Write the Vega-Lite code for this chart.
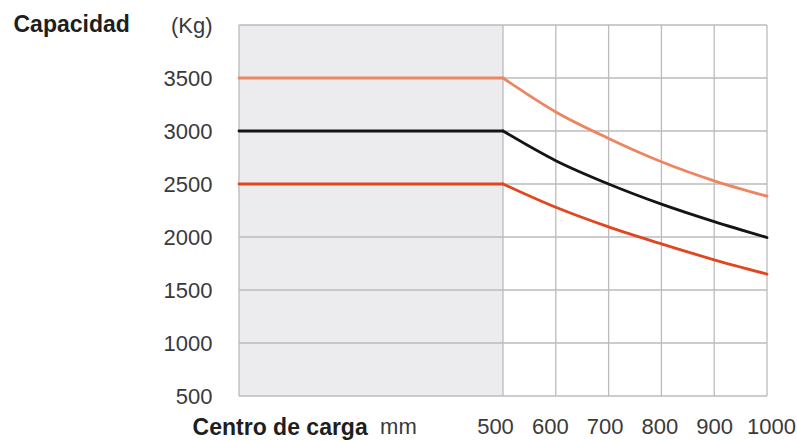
{
  "$schema": "https://vega.github.io/schema/vega-lite/v6.json",
  "width": 528,
  "height": 371,
  "autosize": {"type": "none"},
  "padding": {"left": 239, "top": 25, "right": 30, "bottom": 45},
  "background": "white",
  "config": {"view": {"stroke": null}, "font": "Liberation Sans"},
  "datasets": {
    "shade": [{"from": 0, "to": 500}],
    "vgrid": [{"c": 0}, {"c": 500}, {"c": 600}, {"c": 700}, {"c": 800}, {"c": 900}, {"c": 1000}],
    "hgrid": [{"kg": 500}, {"kg": 1000}, {"kg": 1500}, {"kg": 2000}, {"kg": 2500}, {"kg": 3000}, {"kg": 3500}, {"kg": 4000}],
    "curves": [
      {"serie": "3500", "c": 0, "kg": 3500},
      {"serie": "3500", "c": 500, "kg": 3500},
      {"serie": "3500", "c": 600, "kg": 3180},
      {"serie": "3500", "c": 700, "kg": 2930},
      {"serie": "3500", "c": 800, "kg": 2710},
      {"serie": "3500", "c": 900, "kg": 2530},
      {"serie": "3500", "c": 1000, "kg": 2385},
      {"serie": "3000", "c": 0, "kg": 3000},
      {"serie": "3000", "c": 500, "kg": 3000},
      {"serie": "3000", "c": 600, "kg": 2720},
      {"serie": "3000", "c": 700, "kg": 2500},
      {"serie": "3000", "c": 800, "kg": 2310},
      {"serie": "3000", "c": 900, "kg": 2145},
      {"serie": "3000", "c": 1000, "kg": 1995},
      {"serie": "2500", "c": 0, "kg": 2500},
      {"serie": "2500", "c": 500, "kg": 2500},
      {"serie": "2500", "c": 600, "kg": 2280},
      {"serie": "2500", "c": 700, "kg": 2095},
      {"serie": "2500", "c": 800, "kg": 1935},
      {"serie": "2500", "c": 900, "kg": 1785},
      {"serie": "2500", "c": 1000, "kg": 1650}
    ]
  },
  "encoding": {
    "x": {
      "field": "c", "type": "quantitative",
      "scale": {"domain": [0, 1000], "nice": false, "zero": false},
      "axis": {
        "values": [77, 301, 500, 600, 700, 800, 900, 1000],
        "format": "d",
        "labelExpr": "datum.value == 77 ? 'Centro de carga' : datum.value == 301 ? 'mm' : datum.label",
        "labelFontWeight": {"condition": {"test": "datum.value == 77", "value": "bold"}, "value": "normal"},
        "labelFontSize": {"condition": {"test": "datum.value == 77", "value": 23}, "value": 22},
        "labelColor": {"condition": {"test": "datum.value == 77", "value": "#1e1e1e"}, "value": "#3a3a3a"},
        "labelOffset": {"condition": [
          {"test": "datum.value == 500", "value": -8},
          {"test": "datum.value == 600", "value": -6},
          {"test": "datum.value == 700", "value": -4},
          {"test": "datum.value == 800", "value": -2},
          {"test": "datum.value == 1000", "value": 4}
        ], "value": 0},
        "labelPadding": 20,
        "labelOverlap": false,
        "labelBound": false,
        "labelFlush": false,
        "domain": false, "ticks": false, "grid": false,
        "title": null
      }
    },
    "y": {
      "field": "kg", "type": "quantitative",
      "scale": {"domain": [500, 4000], "nice": false, "zero": false},
      "axis": {
        "values": [500, 1000, 1500, 2000, 2500, 3000, 3500, 4000],
        "format": "d",
        "labelExpr": "datum.value == 4000 ? '(Kg)' : datum.label",
        "labelFontSize": 22,
        "labelColor": "#3a3a3a",
        "labelPadding": 27,
        "labelOverlap": false,
        "labelBound": false,
        "domain": false, "ticks": false, "grid": false,
        "title": "Capacidad",
        "titleAngle": 0,
        "titleAlign": "left",
        "titleBaseline": "middle",
        "titleX": -226,
        "titleY": -1,
        "titleFontSize": 23,
        "titleFontWeight": "bold",
        "titleColor": "#1e1e1e"
      }
    }
  },
  "layer": [
    {
      "data": {"name": "shade"},
      "mark": {"type": "rect", "color": "#ECECEF"},
      "encoding": {"x": {"field": "from", "type": "quantitative"}, "x2": {"field": "to"}, "y": null}
    },
    {
      "data": {"name": "hgrid"},
      "mark": {"type": "rule", "color": "#BBBBBF", "strokeWidth": 1.3},
      "encoding": {"x": null}
    },
    {
      "data": {"name": "vgrid"},
      "mark": {"type": "rule", "color": "#BBBBBF", "strokeWidth": 1.3},
      "encoding": {"y": null}
    },
    {
      "data": {"name": "curves"},
      "transform": [{"filter": "datum.c <= 500"}],
      "mark": {"type": "line", "strokeWidth": 2.8, "strokeCap": "round"},
      "encoding": {
        "color": {"field": "serie", "type": "nominal", "scale": {"domain": ["3500", "3000", "2500"], "range": ["#EC8560", "#141414", "#E2461E"]}, "legend": null}
      }
    },
    {
      "data": {"name": "curves"},
      "transform": [{"filter": "datum.c >= 500"}],
      "mark": {"type": "line", "strokeWidth": 2.8, "interpolate": "monotone", "strokeCap": "round"},
      "encoding": {
        "color": {"field": "serie", "type": "nominal", "legend": null}
      }
    }
  ]
}
